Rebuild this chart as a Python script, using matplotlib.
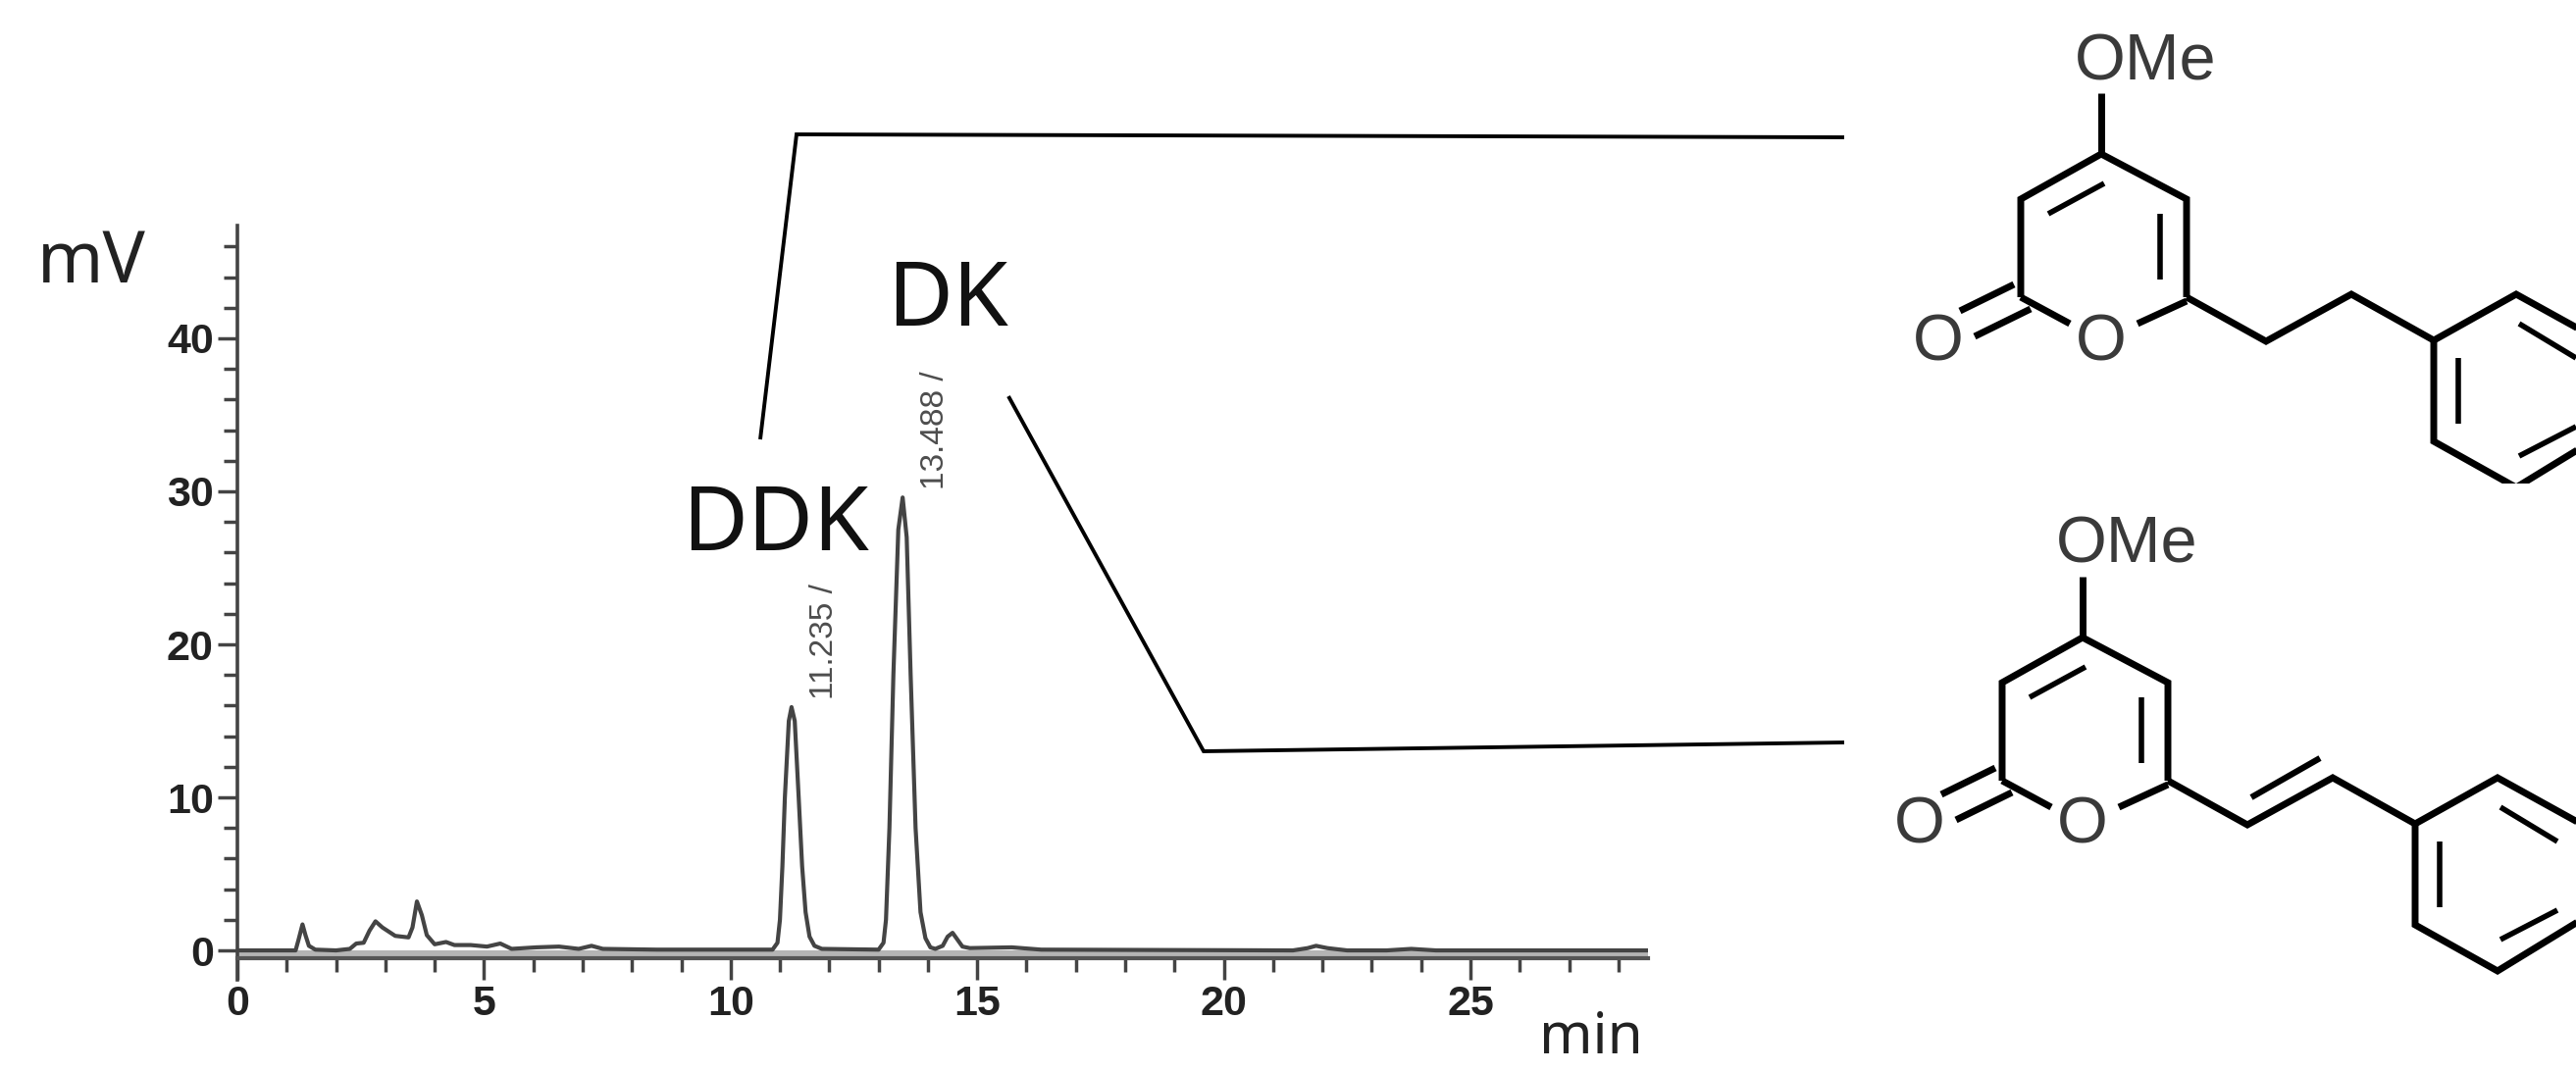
import matplotlib
matplotlib.use("Agg")
import matplotlib.pyplot as plt

# chromatogram trace (min, mV)
time_min = [0, 1.18, 1.24, 1.32, 1.38, 1.45, 1.58, 2.0, 2.28, 2.41, 2.56, 2.68, 2.8, 2.94, 3.2, 3.47, 3.55, 3.64,
            3.74, 3.84, 4.0, 4.23, 4.4, 4.73, 5.06, 5.33, 5.56, 6.06, 6.52, 6.92, 7.18, 7.41, 8.5, 10.85,
            10.95, 11.0, 11.05, 11.1, 11.18, 11.235, 11.3, 11.38, 11.45, 11.52, 11.6, 11.7, 11.85, 13.0,
            13.1, 13.15, 13.22, 13.3, 13.4, 13.488, 13.57, 13.65, 13.75, 13.85, 13.95, 14.05, 14.15, 14.3,
            14.4, 14.5, 14.6, 14.7, 14.85, 15.7, 16.3, 21.4, 21.7, 21.87, 22.1, 22.5, 23.3, 23.8, 24.3, 28.6]
signal_mv = [0.0, 0.0, 0.7, 1.7, 1.0, 0.3, 0.05, 0.0, 0.1, 0.45, 0.5, 1.3, 1.9, 1.5, 0.95, 0.85, 1.5, 3.2,
             2.3, 1.0, 0.4, 0.55, 0.35, 0.35, 0.25, 0.45, 0.1, 0.2, 0.25, 0.1, 0.3, 0.1, 0.05, 0.05,
             0.5, 2.0, 5.5, 10.0, 15.0, 15.9, 15.0, 10.0, 5.5, 2.5, 0.9, 0.3, 0.1, 0.05,
             0.5, 2.0, 8.0, 18.0, 27.5, 29.6, 27.0, 18.0, 8.0, 2.5, 0.8, 0.2, 0.1, 0.3,
             0.9, 1.15, 0.7, 0.25, 0.15, 0.2, 0.05, 0.0, 0.15, 0.3, 0.15, 0.0, 0.0, 0.1, 0.0, 0.0]

peak_times = [11.235, 13.488]
peak_heights = [15.9, 29.6]
peak_labels = ["11.235 /", "13.488 /"]

x_ticks = [0, 5, 10, 15, 20, 25]
y_ticks = [0, 10, 20, 30, 40]
x_minor = [t for t in range(0, 29) if t % 5 != 0]
y_minor = [v for v in range(2, 47, 2) if v % 10 != 0]

# overlay stuff, in pixels of the full picture
leader_ddk = [(775, 448), (812, 137), (1880, 140)]
leader_dk = [(1028, 404), (1227, 766), (1880, 757)]

ring_bonds = [[(2142, 157), (2060, 203), (2060, 303)], [(2142, 157), (2229, 203), (2229, 303)],
              [(2142, 95), (2142, 157)], [(2060, 303), (2110, 330)], [(2179, 330), (2229, 307)],
              [(1998, 317), (2053, 290)], [(2013, 343), (2070, 315)]]
chain_bonds = [[(2229, 303), (2310, 348), (2397, 300), (2481, 347)]]
phenyl_bonds = [[(2481, 347), (2565, 300), (2650, 347)], [(2481, 347), (2481, 450), (2565, 497), (2650, 445)]]
inner_bonds = [[(2088, 218), (2145, 187)], [(2202, 218), (2202, 285)], [(2506, 365), (2506, 432)],
               [(2568, 330), (2626, 365)], [(2568, 465), (2626, 435)]]
ene_bond = [(2295, 813), (2365, 773)]

atom_labels = [("OMe", 2187, 64), ("O", 1976, 350), ("O", 2142, 350)]
second_offset = (-19, 493)

TRACE = "#444444"
INK = "#222222"

plt.rcParams["font.family"] = ["Liberation Sans", "DejaVu Sans"]

fig = plt.figure(figsize=(26.26, 10.92), dpi=100, facecolor="white")

# chromatogram axes: x 0 at px 242, 28.6 at px 1680, y 47.37 at px 230, -1.92 at px 999
ax = fig.add_axes([242 / 2626, 1 - 999 / 1092, (1680 - 242) / 2626, (999 - 230) / 1092])
ax.set_xlim(0, 28.6)
ax.set_ylim(-1.92, 47.37)
ax.patch.set_alpha(0)

ax.axhspan(-0.48, 0, color="#b4b4b4", lw=0, zorder=1)
ax.plot(time_min, signal_mv, color=TRACE, lw=3, zorder=3, solid_joinstyle="round")

for side in ["top", "right"]:
    ax.spines[side].set_visible(False)
ax.spines["bottom"].set_position(("data", -0.48))
ax.spines["bottom"].set_color("#555555")
ax.spines["bottom"].set_linewidth(3)
ax.spines["left"].set_color("#444444")
ax.spines["left"].set_linewidth(2.6)

ax.set_xticks(x_ticks)
ax.set_yticks(y_ticks)
ax.set_xticks(x_minor, minor=True)
ax.set_yticks(y_minor, minor=True)
ax.tick_params(axis="x", which="major", length=16, width=2.5, color="#444444", pad=4, labelsize=31, labelcolor=INK)
ax.tick_params(axis="x", which="minor", length=10, width=2.5, color="#444444")
ax.tick_params(axis="y", which="major", length=14.5, width=2.5, color="#444444", pad=3, labelsize=31, labelcolor=INK)
ax.tick_params(axis="y", which="minor", length=10, width=2.5, color="#444444")
for lab in ax.get_xticklabels() + ax.get_yticklabels():
    lab.set_fontweight("bold")

for rt, h, lab in zip(peak_times, peak_heights, peak_labels):
    ax.annotate(lab, xy=(rt, h), xytext=(24, 6), textcoords="offset points", rotation=90,
                ha="center", va="bottom", fontsize=24, color="#4d4d4d")

# overlay in pixel coordinates for the callouts and the two structures
over = fig.add_axes([0, 0, 1, 1])
over.set_xlim(0, 2626)
over.set_ylim(1092, 0)
over.axis("off")
over.patch.set_alpha(0)


def draw_path(points, lw, dx=0, dy=0, z=3):
    xs = [p[0] + dx for p in points]
    ys = [p[1] + dy for p in points]
    over.plot(xs, ys, color="black", lw=lw, zorder=z, solid_capstyle="butt", solid_joinstyle="miter")


draw_path(leader_ddk, 2.8)
draw_path(leader_dk, 2.8)


def draw_structure(dx=0, dy=0):
    for bond in ring_bonds + chain_bonds + phenyl_bonds:
        draw_path(bond, 5, dx, dy)
    for bond in inner_bonds:
        draw_path(bond, 4, dx, dy)
    for lab, x, y in atom_labels:
        over.text(x + dx, y + dy, lab, ha="center", va="center", fontsize=48, color="#3a3a3a")


draw_structure()
# the top structure is cut off under the ring in the source picture
over.fill_between([1900, 2626], 493, 522, color="white", lw=0, zorder=4)
draw_structure(*second_offset)
draw_path(ene_bond, 4.5, z=5)

font_big = ["Noto Sans", "DejaVu Sans"]
over.text(791, 561, "DDK", ha="center", va="baseline", fontsize=66, family=font_big, color="#111111")
over.text(966, 332, "DK", ha="center", va="baseline", fontsize=66, family=font_big, color="#111111")
over.text(93, 288, "mV", ha="center", va="baseline", fontsize=52, family=font_big, color=INK)
over.text(1622, 1074, "min", ha="center", va="baseline", fontsize=42, family=font_big, color=INK)

fig.savefig("out.png", dpi=100)
